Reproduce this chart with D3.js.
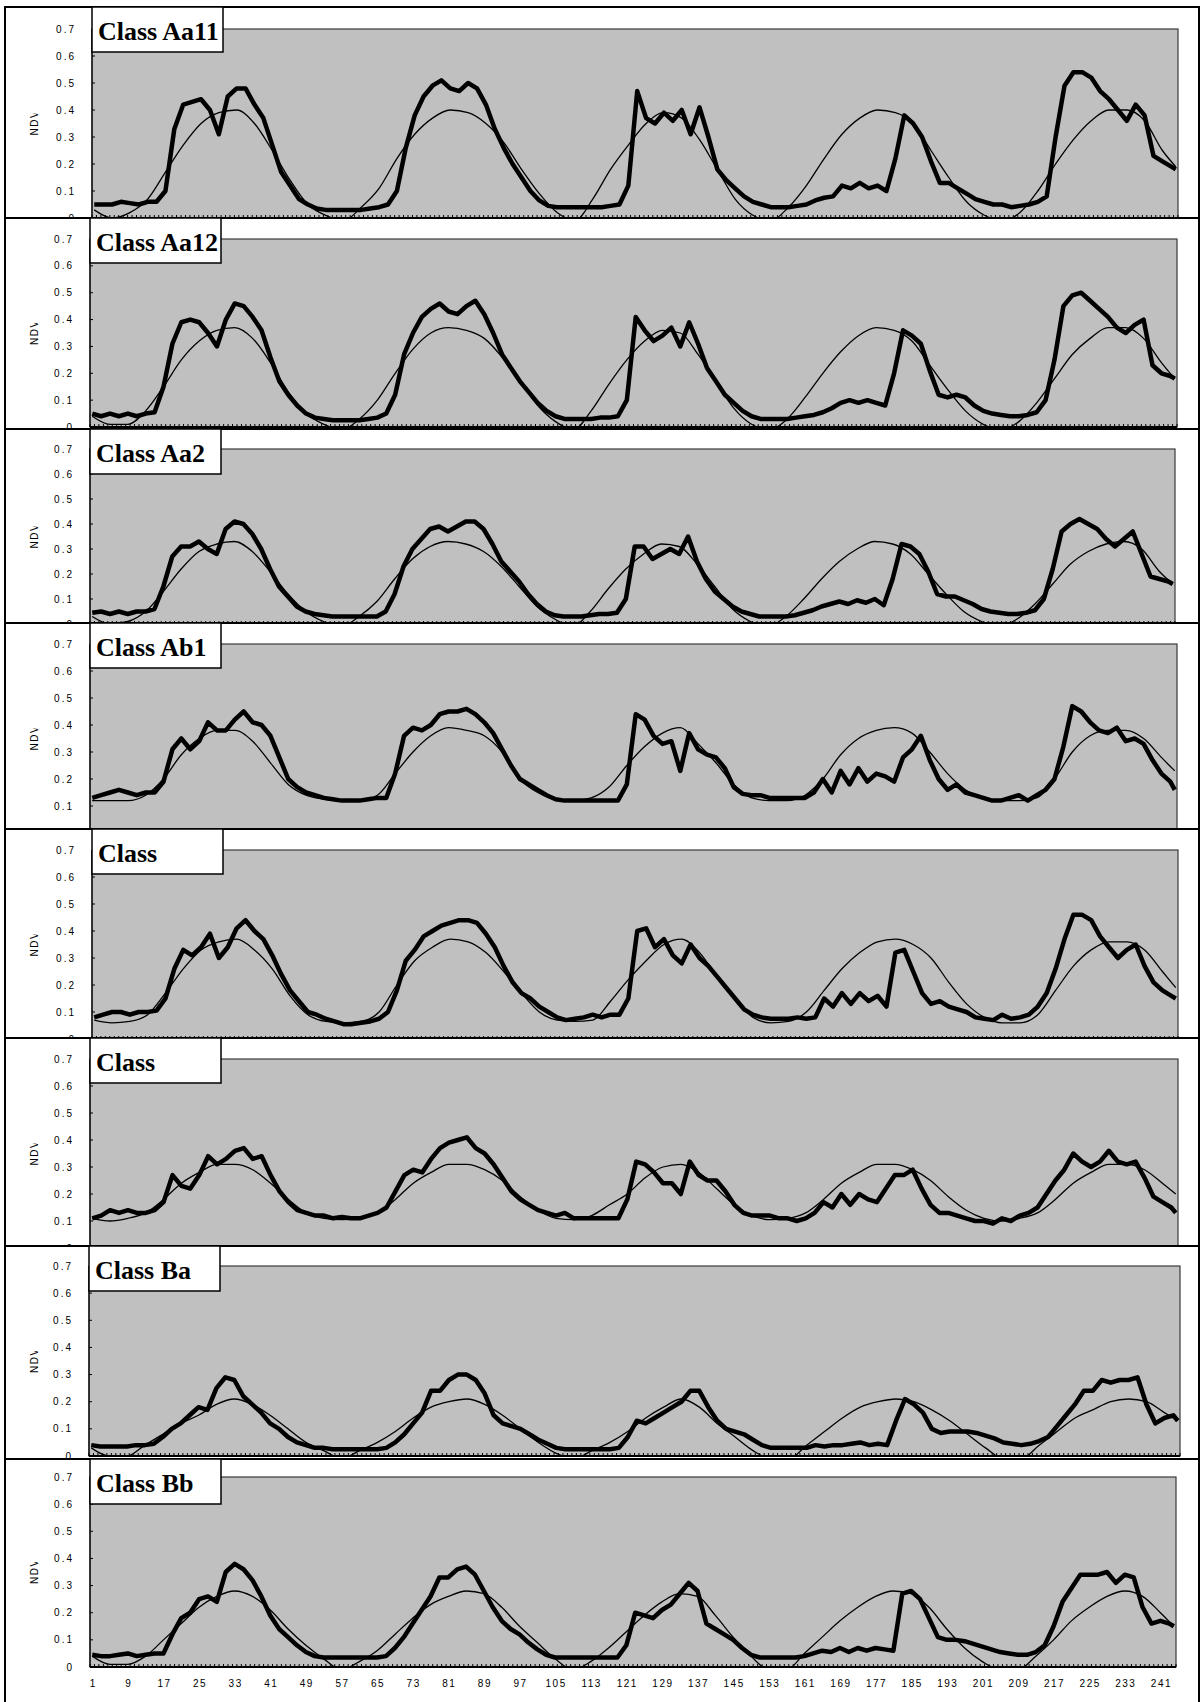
<!DOCTYPE html>
<html>
<head>
<meta charset="utf-8">
<script src="https://cdn.jsdelivr.net/npm/d3@7"></script>
<style>
    body { margin: 0; background: #fff; }
    svg { display: block; }
    text { font-family: Arial, "Liberation Sans", sans-serif; }
</style>
</head>
<body>
<div id="chart"></div>
<script>
// Composite number on the x axis (raw series every 2nd, fitted curve every 4th)
const rawDays = d3.range(1, 244, 2).concat([244]);
const fitDays = d3.range(1, 242, 4).concat([244]);
const xTickLabels = d3.range(1, 242, 8);
const yTicks = [0, 0.1, 0.2, 0.3, 0.4, 0.5, 0.6, 0.7];
const yTitle = "NDVI";

const classNames = ["Class Aa11", "Class Aa12", "Class Aa2", "Class Ab1", "Class", "Class", "Class Ba", "Class Bb"];

// ---- Class Aa11
const aa11Raw = [0.05,0.05,0.05,0.06,0.055,0.05,0.06,0.06,0.10,0.33,
    0.42,0.43,0.44,0.40,0.31,0.45,0.48,0.48,0.42,0.37,
    0.27,0.17,0.12,0.07,0.05,0.035,0.03,0.03,0.03,0.03,
    0.03,0.035,0.04,0.05,0.10,0.26,0.38,0.45,0.49,0.51,
    0.48,0.47,0.50,0.48,0.42,0.33,0.26,0.20,0.15,0.10,
    0.065,0.045,0.04,0.04,0.04,0.04,0.04,0.04,0.045,0.05,
    0.12,0.47,0.37,0.35,0.39,0.36,0.40,0.31,0.41,0.30,
    0.18,0.14,0.11,0.08,0.06,0.05,0.04,0.04,0.04,0.045,
    0.05,0.065,0.075,0.08,0.12,0.11,0.13,0.11,0.12,0.10,
    0.22,0.38,0.35,0.30,0.21,0.13,0.13,0.11,0.09,0.07,
    0.06,0.05,0.05,0.04,0.045,0.05,0.06,0.08,0.30,0.49,
    0.54,0.54,0.52,0.47,0.44,0.40,0.36,0.42,0.38,0.23,
    0.21,0.19,0.18];
const aa11Fit = [0.03,0.0,0.02,0.07,0.17,0.27,0.35,0.39,0.40,0.35,
    0.25,0.14,0.05,0.01,-0.01,0.04,0.11,0.22,0.31,0.37,
    0.40,0.39,0.35,0.28,0.18,0.09,0.02,-0.01,0.07,0.18,
    0.27,0.35,0.39,0.37,0.29,0.18,0.07,0.01,-0.01,0.04,
    0.12,0.22,0.31,0.37,0.40,0.39,0.35,0.25,0.15,0.06,
    0.01,-0.01,0.02,0.10,0.20,0.29,0.36,0.40,0.40,0.36,
    0.25,0.19];

// ---- Class Aa12
const aa12Raw = [0.05,0.04,0.05,0.04,0.05,0.04,0.05,0.055,0.15,0.31,
    0.39,0.40,0.39,0.35,0.30,0.40,0.46,0.45,0.41,0.36,
    0.26,0.17,0.12,0.08,0.05,0.035,0.03,0.025,0.025,0.025,
    0.025,0.03,0.035,0.05,0.12,0.27,0.35,0.41,0.44,0.46,
    0.43,0.42,0.45,0.47,0.42,0.35,0.27,0.22,0.17,0.13,
    0.09,0.06,0.04,0.03,0.03,0.03,0.03,0.035,0.035,0.04,
    0.10,0.41,0.36,0.32,0.34,0.37,0.30,0.39,0.31,0.22,
    0.17,0.12,0.09,0.06,0.04,0.03,0.03,0.03,0.03,0.035,
    0.04,0.045,0.055,0.07,0.09,0.10,0.09,0.10,0.09,0.08,
    0.20,0.36,0.34,0.31,0.21,0.12,0.11,0.12,0.11,0.08,
    0.06,0.05,0.045,0.04,0.04,0.045,0.055,0.10,0.25,0.45,
    0.49,0.50,0.47,0.44,0.41,0.37,0.35,0.38,0.40,0.23,
    0.20,0.19,0.18];
const aa12Fit = [0.04,0.01,0.01,0.06,0.15,0.25,0.32,0.36,0.37,0.33,
    0.24,0.13,0.05,0.01,-0.01,0.03,0.10,0.20,0.29,0.35,
    0.37,0.36,0.33,0.26,0.17,0.08,0.02,-0.01,0.06,0.16,
    0.25,0.32,0.36,0.35,0.27,0.17,0.07,0.01,-0.01,0.03,
    0.11,0.20,0.28,0.34,0.37,0.36,0.32,0.23,0.14,0.06,
    0.01,-0.01,0.02,0.09,0.18,0.27,0.33,0.37,0.37,0.33,
    0.24,0.18];

// ---- Class Aa2
const aa2Raw = [0.045,0.05,0.04,0.05,0.04,0.05,0.05,0.06,0.15,0.27,
    0.31,0.31,0.33,0.30,0.28,0.38,0.41,0.40,0.36,0.30,
    0.22,0.15,0.11,0.07,0.05,0.04,0.035,0.03,0.03,0.03,
    0.03,0.03,0.03,0.05,0.12,0.23,0.30,0.34,0.38,0.39,
    0.37,0.39,0.41,0.41,0.38,0.32,0.25,0.21,0.17,0.12,
    0.08,0.05,0.035,0.03,0.03,0.03,0.035,0.04,0.04,0.045,
    0.10,0.31,0.31,0.26,0.28,0.30,0.28,0.35,0.25,0.18,
    0.13,0.10,0.07,0.05,0.04,0.03,0.03,0.03,0.03,0.035,
    0.045,0.055,0.07,0.08,0.09,0.08,0.095,0.085,0.10,0.075,
    0.18,0.32,0.31,0.28,0.21,0.12,0.11,0.11,0.095,0.08,
    0.06,0.05,0.045,0.04,0.04,0.045,0.055,0.10,0.22,0.37,
    0.40,0.42,0.40,0.38,0.34,0.31,0.34,0.37,0.28,0.19,
    0.18,0.17,0.16];
const aa2Fit = [0.03,0.0,0.01,0.05,0.13,0.22,0.29,0.32,0.33,0.29,
    0.21,0.12,0.05,0.01,-0.01,0.03,0.09,0.18,0.26,0.31,
    0.33,0.32,0.29,0.23,0.15,0.07,0.02,-0.01,0.05,0.14,
    0.22,0.28,0.32,0.31,0.24,0.15,0.06,0.01,-0.01,0.03,
    0.10,0.18,0.25,0.30,0.33,0.32,0.28,0.20,0.12,0.05,
    0.01,-0.01,0.02,0.08,0.16,0.24,0.29,0.32,0.33,0.30,
    0.21,0.16];

// ---- Class Ab1
const ab1Raw = [0.13,0.14,0.15,0.16,0.15,0.14,0.15,0.15,0.19,0.31,
    0.35,0.31,0.34,0.41,0.38,0.38,0.42,0.45,0.41,0.40,
    0.36,0.28,0.20,0.17,0.15,0.14,0.13,0.125,0.12,0.12,
    0.12,0.125,0.13,0.13,0.22,0.36,0.39,0.38,0.40,0.44,
    0.45,0.45,0.46,0.44,0.41,0.37,0.31,0.25,0.20,0.18,
    0.16,0.14,0.125,0.12,0.12,0.12,0.12,0.12,0.12,0.12,
    0.18,0.44,0.42,0.36,0.33,0.34,0.23,0.37,0.31,0.29,
    0.28,0.24,0.17,0.145,0.14,0.14,0.13,0.13,0.13,0.13,
    0.13,0.15,0.20,0.15,0.23,0.18,0.24,0.19,0.22,0.21,
    0.19,0.28,0.31,0.36,0.27,0.20,0.16,0.18,0.15,0.14,
    0.13,0.12,0.12,0.13,0.14,0.12,0.14,0.16,0.20,0.32,
    0.47,0.45,0.41,0.38,0.37,0.39,0.34,0.35,0.33,0.27,
    0.22,0.19,0.16];
const ab1Fit = [0.12,0.12,0.12,0.14,0.20,0.29,0.35,0.38,0.38,0.34,
    0.26,0.18,0.14,0.125,0.12,0.12,0.14,0.22,0.30,0.36,
    0.39,0.38,0.36,0.30,0.20,0.15,0.125,0.12,0.13,0.17,
    0.25,0.32,0.37,0.39,0.33,0.26,0.18,0.13,0.12,0.12,
    0.14,0.20,0.29,0.35,0.38,0.39,0.37,0.30,0.22,0.16,
    0.13,0.12,0.12,0.13,0.20,0.30,0.36,0.38,0.38,0.35,
    0.28,0.23];

// ---- Class (5th chart)
const c5Raw = [0.08,0.09,0.10,0.10,0.09,0.10,0.10,0.105,0.15,0.26,
    0.33,0.31,0.34,0.39,0.30,0.34,0.41,0.44,0.40,0.37,
    0.31,0.24,0.18,0.14,0.10,0.09,0.075,0.065,0.055,0.055,
    0.06,0.065,0.075,0.10,0.18,0.29,0.33,0.38,0.40,0.42,
    0.43,0.44,0.44,0.43,0.39,0.34,0.27,0.21,0.17,0.15,
    0.12,0.10,0.08,0.07,0.075,0.08,0.09,0.08,0.09,0.09,
    0.15,0.40,0.41,0.34,0.37,0.31,0.28,0.35,0.30,0.27,
    0.23,0.19,0.15,0.11,0.09,0.08,0.075,0.075,0.075,0.08,
    0.075,0.08,0.15,0.12,0.17,0.13,0.17,0.14,0.16,0.12,
    0.32,0.33,0.25,0.17,0.13,0.14,0.12,0.11,0.10,0.08,
    0.075,0.07,0.09,0.075,0.08,0.09,0.12,0.17,0.26,0.37,
    0.46,0.46,0.44,0.38,0.34,0.30,0.33,0.35,0.27,0.21,
    0.18,0.16,0.15];
const c5Fit = [0.07,0.06,0.065,0.09,0.17,0.26,0.33,0.36,0.37,0.33,
    0.26,0.16,0.09,0.065,0.06,0.065,0.10,0.20,0.29,0.34,
    0.37,0.36,0.32,0.25,0.17,0.10,0.07,0.065,0.07,0.14,
    0.22,0.29,0.35,0.37,0.32,0.23,0.15,0.08,0.06,0.065,
    0.10,0.18,0.26,0.32,0.36,0.37,0.35,0.30,0.21,0.13,
    0.08,0.06,0.06,0.09,0.18,0.27,0.33,0.36,0.36,0.33,
    0.25,0.19];

// ---- Class (6th chart)
const c6Raw = [0.11,0.12,0.14,0.13,0.14,0.13,0.13,0.14,0.17,0.27,
    0.23,0.22,0.27,0.34,0.31,0.33,0.36,0.37,0.33,0.34,
    0.27,0.21,0.17,0.14,0.13,0.12,0.12,0.11,0.115,0.11,
    0.11,0.12,0.13,0.15,0.21,0.27,0.29,0.28,0.33,0.37,
    0.39,0.40,0.41,0.37,0.35,0.31,0.26,0.21,0.18,0.16,
    0.14,0.13,0.12,0.13,0.11,0.11,0.11,0.11,0.11,0.11,
    0.18,0.32,0.31,0.28,0.24,0.24,0.20,0.32,0.27,0.25,
    0.25,0.21,0.16,0.13,0.12,0.12,0.12,0.11,0.11,0.10,
    0.11,0.13,0.17,0.15,0.20,0.16,0.20,0.18,0.17,0.22,
    0.27,0.27,0.29,0.22,0.16,0.13,0.13,0.12,0.11,0.10,
    0.10,0.09,0.11,0.10,0.12,0.13,0.15,0.20,0.25,0.29,
    0.35,0.32,0.30,0.32,0.36,0.32,0.31,0.32,0.26,0.19,
    0.17,0.15,0.13];
const c6Fit = [0.11,0.10,0.11,0.13,0.18,0.24,0.28,0.31,0.31,0.29,
    0.24,0.18,0.13,0.11,0.105,0.11,0.13,0.18,0.24,0.28,
    0.31,0.31,0.29,0.25,0.19,0.14,0.11,0.105,0.12,0.16,
    0.20,0.26,0.30,0.31,0.28,0.22,0.16,0.12,0.105,0.11,
    0.13,0.18,0.24,0.28,0.31,0.31,0.29,0.25,0.19,0.14,
    0.11,0.10,0.11,0.13,0.18,0.24,0.28,0.31,0.31,0.29,
    0.24,0.20];

// ---- Class Ba
const baRaw = [0.04,0.035,0.035,0.035,0.035,0.04,0.04,0.045,0.07,0.10,
    0.12,0.15,0.18,0.17,0.25,0.29,0.28,0.22,0.19,0.16,
    0.12,0.10,0.07,0.05,0.04,0.03,0.03,0.025,0.025,0.025,
    0.025,0.025,0.025,0.03,0.05,0.08,0.12,0.16,0.24,0.24,
    0.28,0.30,0.30,0.28,0.23,0.15,0.12,0.11,0.10,0.08,
    0.06,0.045,0.03,0.025,0.025,0.025,0.025,0.025,0.025,0.03,
    0.07,0.13,0.12,0.14,0.16,0.18,0.20,0.24,0.24,0.18,
    0.13,0.10,0.09,0.08,0.06,0.04,0.03,0.03,0.03,0.03,
    0.03,0.04,0.035,0.04,0.04,0.045,0.05,0.04,0.045,0.04,
    0.13,0.21,0.19,0.16,0.10,0.085,0.09,0.09,0.09,0.085,
    0.075,0.065,0.05,0.045,0.04,0.045,0.055,0.07,0.11,0.15,
    0.19,0.24,0.24,0.28,0.27,0.28,0.28,0.29,0.19,0.12,
    0.14,0.15,0.13];
const baFit = [0.03,0.0,0.0,0.04,0.08,0.12,0.15,0.19,0.21,0.19,
    0.15,0.10,0.05,0.02,-0.01,0.02,0.05,0.09,0.14,0.18,
    0.20,0.21,0.19,0.15,0.10,0.05,0.01,-0.01,0.02,0.05,
    0.09,0.14,0.18,0.21,0.18,0.12,0.07,0.02,-0.01,-0.01,
    0.04,0.09,0.14,0.18,0.20,0.21,0.20,0.17,0.13,0.08,
    0.03,-0.01,-0.01,0.04,0.09,0.14,0.17,0.20,0.21,0.20,
    0.16,0.13];

// ---- Class Bb
const bbRaw = [0.045,0.04,0.04,0.045,0.05,0.04,0.045,0.05,0.05,0.12,
    0.18,0.20,0.25,0.26,0.24,0.35,0.38,0.36,0.32,0.26,
    0.19,0.14,0.11,0.08,0.055,0.04,0.035,0.035,0.035,0.035,
    0.035,0.035,0.035,0.04,0.07,0.11,0.16,0.21,0.26,0.33,
    0.33,0.36,0.37,0.34,0.28,0.22,0.17,0.14,0.12,0.09,
    0.065,0.045,0.035,0.035,0.035,0.035,0.035,0.035,0.035,0.035,
    0.08,0.20,0.19,0.18,0.21,0.23,0.27,0.31,0.28,0.16,
    0.14,0.12,0.10,0.07,0.045,0.035,0.035,0.035,0.035,0.035,
    0.04,0.05,0.06,0.055,0.07,0.055,0.07,0.06,0.07,0.065,
    0.06,0.27,0.28,0.25,0.18,0.11,0.10,0.10,0.095,0.085,
    0.075,0.065,0.055,0.05,0.045,0.045,0.055,0.08,0.15,0.24,
    0.29,0.34,0.34,0.34,0.35,0.31,0.34,0.33,0.22,0.16,
    0.17,0.16,0.15];
const bbFit = [0.04,0.01,0.01,0.04,0.10,0.16,0.22,0.26,0.28,0.26,
    0.21,0.14,0.08,0.03,-0.01,0.02,0.06,0.12,0.18,0.23,
    0.26,0.28,0.27,0.22,0.15,0.09,0.03,-0.01,0.02,0.07,
    0.13,0.19,0.24,0.27,0.26,0.19,0.11,0.04,-0.01,-0.01,
    0.05,0.11,0.17,0.22,0.26,0.28,0.27,0.22,0.14,0.07,
    0.02,-0.01,-0.01,0.04,0.10,0.17,0.22,0.26,0.28,0.26,
    0.20,0.15];

const rawSeries = [aa11Raw, aa12Raw, aa2Raw, ab1Raw, c5Raw, c6Raw, baRaw, bbRaw];
const fitSeries = [aa11Fit, aa12Fit, aa2Fit, ab1Fit, c5Fit, c6Fit, baFit, bbFit];

// Page layout of the eight stacked charts (pixels)
const W = 1201, H = 1702;
const layout = [
    { frameTop: 7,    plotTop: 29,   zeroY: 218,  left: 92, right: 1178 },
    { frameTop: 218,  plotTop: 239,  zeroY: 427,  left: 90, right: 1177 },
    { frameTop: 429,  plotTop: 449,  zeroY: 624,  left: 90, right: 1175 },
    { frameTop: 623,  plotTop: 644,  zeroY: 833,  left: 90, right: 1177 },
    { frameTop: 829,  plotTop: 850,  zeroY: 1039, left: 92, right: 1178 },
    { frameTop: 1038, plotTop: 1059, zeroY: 1248, left: 90, right: 1178 },
    { frameTop: 1246, plotTop: 1266, zeroY: 1456, left: 89, right: 1180 },
    { frameTop: 1459, plotTop: 1477, zeroY: 1667, left: 90, right: 1176 }
];

const svg = d3.select("#chart")
    .append("svg")
    .attr("width", W)
    .attr("height", H);

function drawPanel(i) {
    const p = layout[i];
    const last = i === layout.length - 1;
    const g = svg.append("g");

    const x = d3.scaleLinear().domain([0.5, 244.5]).range([p.left, p.right]);
    const y = d3.scaleLinear().domain([0, 0.7]).range([p.zeroY, p.plotTop]);

    // Chart frame (the next chart covers the lower part)
    const bottom = last ? H + 10 : p.zeroY + 60;
    g.append("rect")
        .attr("x", 5).attr("y", p.frameTop)
        .attr("width", 1194).attr("height", bottom - p.frameTop)
        .attr("fill", "#fff")
        .attr("stroke", "#000")
        .attr("stroke-width", 2);

    // Grey plot area
    g.append("rect")
        .attr("x", p.left).attr("y", p.plotTop)
        .attr("width", p.right - p.left).attr("height", p.zeroY - p.plotTop)
        .attr("fill", "#c0c0c0")
        .attr("stroke", "#3a3a3a")
        .attr("stroke-width", 1.2);

    // Minor ticks on the category axis
    g.append("g")
        .selectAll("line")
        .data(d3.range(0, 245))
        .enter()
        .append("line")
        .attr("x1", d => x(d + 0.5)).attr("x2", d => x(d + 0.5))
        .attr("y1", p.zeroY).attr("y2", p.zeroY - 3)
        .attr("stroke", "#000")
        .attr("stroke-width", 1);

    // Clip the series to the plot area
    const clipId = `clip-${i}`;
    svg.append("clipPath").attr("id", clipId)
        .append("rect")
        .attr("x", p.left).attr("y", p.plotTop - 3)
        .attr("width", p.right - p.left).attr("height", p.zeroY - p.plotTop + 4);

    const fitLine = d3.line()
        .x((d, k) => x(fitDays[k]))
        .y(d => y(d))
        .curve(d3.curveMonotoneX);
    const rawLine = d3.line()
        .x((d, k) => x(rawDays[k]))
        .y(d => y(d));

    const series = g.append("g").attr("clip-path", `url(#${clipId})`);
    series.append("path")
        .datum(fitSeries[i])
        .attr("d", fitLine)
        .attr("fill", "none")
        .attr("stroke", "#000")
        .attr("stroke-width", 1.3);
    series.append("path")
        .datum(rawSeries[i])
        .attr("d", rawLine)
        .attr("fill", "none")
        .attr("stroke", "#000")
        .attr("stroke-width", 4.5)
        .attr("stroke-linejoin", "round");

    // Axis lines
    g.append("line")
        .attr("x1", p.left).attr("x2", p.left)
        .attr("y1", p.plotTop).attr("y2", p.zeroY)
        .attr("stroke", "#000").attr("stroke-width", 1.2);
    g.append("line")
        .attr("x1", p.left).attr("x2", p.right)
        .attr("y1", p.zeroY).attr("y2", p.zeroY)
        .attr("stroke", "#000").attr("stroke-width", 2);

    // Y ticks and labels
    g.selectAll(".ytick")
        .data(yTicks)
        .enter()
        .append("line")
        .attr("x1", p.left).attr("x2", p.left + 3)
        .attr("y1", d => y(d)).attr("y2", d => y(d))
        .attr("stroke", "#000");
    g.selectAll(".ylab")
        .data(yTicks)
        .enter()
        .append("text")
        .attr("x", p.left - 16)
        .attr("y", d => y(d))
        .attr("dy", "0.35em")
        .attr("text-anchor", "end")
        .style("font-size", "10px")
        .style("letter-spacing", "2px")
        .text(d => d === 0 ? "0" : d3.format(".1f")(d));

    // Y title, cut off as in the original
    const mid = (p.plotTop + p.zeroY) / 2;
    const titleClip = `yclip-${i}`;
    svg.append("clipPath").attr("id", titleClip)
        .append("rect")
        .attr("x", 20).attr("y", mid - 10)
        .attr("width", 30).attr("height", 30);
    g.append("g")
        .attr("clip-path", `url(#${titleClip})`)
        .append("text")
        .attr("transform", `translate(38, ${mid + 12}) rotate(-90)`)
        .attr("text-anchor", "start")
        .style("font-size", "10px")
        .style("letter-spacing", "1.5px")
        .text(yTitle);

    // X labels only on the bottom chart
    if (last) {
        g.selectAll(".xlab")
            .data(xTickLabels)
            .enter()
            .append("text")
            .attr("x", d => x(d) + 1)
            .attr("y", p.zeroY + 16)
            .attr("dy", "0.35em")
            .attr("text-anchor", "middle")
            .style("font-size", "10px")
            .style("letter-spacing", "1.5px")
            .text(d => d);
    }

    // Class label box
    g.append("rect")
        .attr("x", p.left).attr("y", p.frameTop)
        .attr("width", 131).attr("height", 45)
        .attr("fill", "#fff")
        .attr("stroke", "#000")
        .attr("stroke-width", 1.5);
    g.append("text")
        .attr("x", p.left + 6)
        .attr("y", p.frameTop + 33)
        .style("font-family", "'Liberation Serif', 'Times New Roman', serif")
        .style("font-weight", "bold")
        .style("font-size", "26px")
        .text(classNames[i]);
}

layout.forEach((p, i) => drawPanel(i));
</script>
</body>
</html>
